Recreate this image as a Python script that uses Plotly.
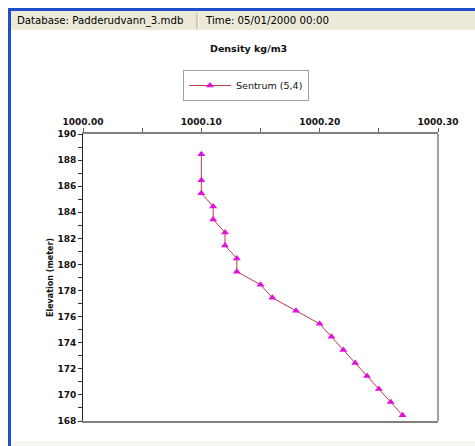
import plotly.graph_objects as go

W, H = 475, 446
L, R, T, B = 83, 438, 134, 421  # plot area in pixels

series_name = "Sentrum (5,4)"
density = [1000.100, 1000.100, 1000.100, 1000.110, 1000.110, 1000.120, 1000.120,
           1000.130, 1000.130, 1000.150, 1000.160, 1000.180, 1000.200, 1000.210,
           1000.220, 1000.230, 1000.240, 1000.250, 1000.260, 1000.270]
elevation = [188.45, 186.45, 185.45, 184.45, 183.45, 182.45, 181.45, 180.45,
             179.45, 178.45, 177.45, 176.45, 175.45, 174.45, 173.45, 172.45,
             171.45, 170.45, 169.45, 168.45]
x_range = [1000.0, 1000.3]
y_range = [168, 190]
title_text = "Density kg/m3"
y_title = "Elevation (meter)"
header_db = "Database: Padderudvann_3.mdb"
header_time = "Time: 05/01/2000 00:00"

def px(x):
    return (x - L) / (R - L)

def py(y):
    return (B - y) / (B - T)

fig = go.Figure()
fig.add_trace(go.Scatter(
    x=density, y=elevation, mode="lines+markers", name=series_name,
    line=dict(color="#c03a4a", width=1),
    marker=dict(symbol="triangle-up", size=7, color="#e010e0"),
))

font_main = "DejaVu Sans"
shapes = [
    dict(type="rect", xref="paper", yref="paper", x0=px(8), x1=px(11), y0=py(446), y1=py(8),
         fillcolor="#1f4fc8", line_width=0, layer="below"),
    dict(type="rect", xref="paper", yref="paper", x0=px(8), x1=px(475), y0=py(11), y1=py(8),
         fillcolor="#1f4fc8", line_width=0, layer="below"),
    dict(type="rect", xref="paper", yref="paper", x0=px(11), x1=px(475), y0=py(30), y1=py(11),
         fillcolor="#ece9d8", line_width=0, layer="below"),
    dict(type="line", xref="paper", yref="paper", x0=px(198), x1=px(198), y0=py(29), y1=py(13),
         line=dict(color="#ffffff", width=1)),
    dict(type="line", xref="paper", yref="paper", x0=px(197), x1=px(197), y0=py(29), y1=py(13),
         line=dict(color="#aca899", width=1)),
    dict(type="rect", xref="paper", yref="paper", x0=px(11), x1=px(475), y0=py(446), y1=py(441),
         fillcolor="#f7f6ee", line_width=0, layer="below"),
    dict(type="line", xref="paper", yref="paper", x0=1, x1=1, y0=0, y1=1,
         line=dict(color="#808080", width=1.5)),
]

annotations = [
    dict(text=header_db, xref="paper", yref="paper", x=px(15), y=py(20.5), xanchor="left",
         yanchor="middle", showarrow=False, font=dict(family=font_main, size=10.2, color="#000")),
    dict(text=header_time, xref="paper", yref="paper", x=px(203), y=py(20.5), xanchor="left",
         yanchor="middle", showarrow=False, font=dict(family=font_main, size=10.2, color="#000")),
    dict(text=title_text, xref="paper", yref="paper", x=px(248.5), y=py(48), xanchor="center",
         yanchor="middle", showarrow=False, font=dict(family=font_main, size=9.5, color="#111", weight="bold")),
]

fig.update_layout(
    width=W, height=H,
    margin=dict(l=L, r=W - R, t=T, b=H - B, pad=0),
    paper_bgcolor="white", plot_bgcolor="white",
    shapes=shapes, annotations=annotations,
    showlegend=True,
    legend=dict(x=px(183), y=py(70), xanchor="left", yanchor="top",
                bordercolor="#a0a0a0", borderwidth=1, bgcolor="white",
                font=dict(family=font_main, size=9.5, color="#111"),
                itemwidth=42, tracegroupgap=0),
    xaxis=dict(range=x_range, side="top", dtick=0.1, tick0=1000.0, tickformat=".2f",
               showgrid=False, zeroline=False, showline=True, linecolor="#808080", linewidth=1.5,
               mirror=True, ticks="outside", ticklen=4, tickcolor="#606060",
               minor=dict(dtick=0.05, ticks="outside", ticklen=4, tickcolor="#606060"),
               tickfont=dict(family=font_main, size=9, color="#111", weight="bold")),
    yaxis=dict(range=y_range, dtick=2, showgrid=False, zeroline=False, showline=True,
               linecolor="#202020", linewidth=1, ticks="outside", ticklen=4, tickcolor="#303030",
               minor=dict(dtick=1, ticks="outside", ticklen=4, tickcolor="#303030"),
               tickfont=dict(family=font_main, size=9, color="#111", weight="bold"),
               title=dict(text=y_title, standoff=2,
                          font=dict(family=font_main, size=8, color="#111", weight="bold"))),
)

fig.write_html("out.html")
